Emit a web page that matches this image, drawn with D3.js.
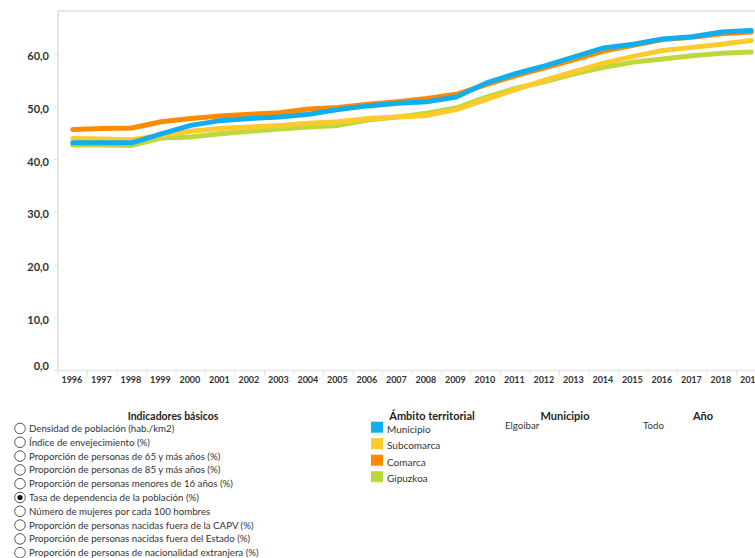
<!DOCTYPE html>
<html>
<head>
<meta charset="utf-8">
<script src="https://cdn.jsdelivr.net/npm/d3@7"></script>
<style>
  html, body { margin: 0; padding: 0; background: #fff; }
  svg { display: block; font-family: Lato, "Open Sans", sans-serif; }
</style>
</head>
<body>
<svg id="chart" width="755" height="558"></svg>
<script>
// Tasa de dependencia de la población (%), Elgoibar and its reference areas
const years = ["1996","1997","1998","1999","2000","2001","2002","2003","2004","2005","2006","2007",
               "2008","2009","2010","2011","2012","2013","2014","2015","2016","2017","2018","2019"];
const municipio  = [43.1,43.1,43.1,44.8,46.4,47.3,47.7,48.0,48.5,49.4,50.1,50.6,50.9,51.8,54.4,56.2,57.7,59.4,61.1,61.8,62.8,63.2,64.1,64.4];
const subcomarca = [43.9,43.8,43.7,44.5,45.3,45.8,46.1,46.4,46.8,47.1,47.7,48.0,48.3,49.4,51.3,53.2,55.0,56.6,58.2,59.5,60.6,61.2,61.8,62.5];
const comarca    = [45.6,45.8,45.9,47.1,47.7,48.2,48.5,48.8,49.5,49.8,50.4,50.9,51.5,52.3,54.1,55.8,57.3,58.9,60.5,61.6,62.7,63.1,63.8,64.1];
const gipuzkoa   = [42.7,42.7,42.6,44.0,44.2,44.8,45.3,45.7,46.1,46.4,47.4,48.0,48.7,49.7,51.7,53.4,54.7,56.2,57.4,58.4,59.0,59.6,60.1,60.3];
const yTicks = [0,10,20,30,40,50,60];

const ambitos = ["Municipio","Subcomarca","Comarca","Gipuzkoa"];
const ambitoColors = ["#10aeef","#ffca2c","#ff8a00","#bed73a"];
const indicadores = [
  "Densidad de población (hab./km2)",
  "Índice de envejecimiento (%)",
  "Proporción de personas de 65 y más años (%)",
  "Proporción de personas de 85 y más años (%)",
  "Proporción de personas menores de 16 años (%)",
  "Tasa de dependencia de la población (%)",
  "Número de mujeres por cada 100 hombres",
  "Proporción de personas nacidas fuera de la CAPV (%)",
  "Proporción de personas nacidas fuera del Estado (%)",
  "Proporción de personas de nacionalidad extranjera (%)"
];
const indicadorSeleccionado = 5;
const municipioSel = "Elgoibar";
const anioSel = "Todo";

const seriesValues = [municipio, subcomarca, comarca, gipuzkoa];

const svg = d3.select("#chart");
const plot = { left: 58, top: 11, right: 766, bottom: 370 };

const x = d3.scaleBand().domain(years).range([plot.left, plot.right]);
const y = d3.scaleLinear().domain([0, 68.1]).range([plot.bottom, plot.top]);

// plot frame (left and top edges)
svg.append("path")
  .attr("d", `M${plot.left},${plot.bottom}V${plot.top}H${plot.right}`)
  .attr("fill", "none").attr("stroke", "#e6e6e6").attr("stroke-width", 2);

// y axis
const yAxis = svg.append("g")
  .attr("transform", `translate(${plot.left},0)`)
  .call(d3.axisLeft(y).tickValues(yTicks).tickSize(4).tickPadding(5)
        .tickFormat(d => d3.format(".1f")(d).replace(".", ",")));
yAxis.select(".domain").remove();
yAxis.selectAll(".tick line").attr("stroke", "#dcdcdc");
yAxis.selectAll(".tick text")
  .attr("fill", "#333").attr("font-weight", "bold").attr("font-size", 11)
  .attr("font-family", "Lato, sans-serif")
  .attr("dy", d => d === 0 ? "-0.05em" : "0.55em");

// x axis
const xAxis = svg.append("g")
  .attr("transform", `translate(0,${plot.bottom})`)
  .call(d3.axisBottom(x).tickSize(0).tickPadding(7));
xAxis.select(".domain").attr("stroke", "#e6e6e6").attr("stroke-width", 1.5);
xAxis.selectAll(".tick text")
  .attr("fill", "#333").attr("font-weight", "bold").attr("font-size", 9)
  .attr("font-family", "Lato, sans-serif").attr("dx", "-0.1em");
// band separators
xAxis.selectAll(".sep").data(years).join("line")
  .attr("class", "sep")
  .attr("x1", d => x(d)).attr("x2", d => x(d))
  .attr("y1", 0).attr("y2", 5)
  .attr("stroke", "#e2e2e2");

// series lines
const line = d3.line()
  .x((d, i) => x(years[i]) + x.bandwidth() / 2)
  .y(d => y(d));
const drawOrder = [3, 1, 2, 0];
svg.append("g").selectAll("path")
  .data(drawOrder)
  .join("path")
  .attr("d", k => line(seriesValues[k]))
  .attr("fill", "none")
  .attr("stroke", k => ambitoColors[k])
  .attr("stroke-width", 5)
  .attr("stroke-linejoin", "round")
  .attr("stroke-linecap", "round");

// controls panel below the chart
const head = (txt, cx, size) => svg.append("text")
  .attr("x", cx).attr("y", 419.5).attr("text-anchor", "middle")
  .attr("font-weight", "bold").attr("font-size", size).attr("fill", "#222").text(txt);

head("Indicadores básicos", 173, 10.5);
const radios = svg.append("g").selectAll("g").data(indicadores).join("g")
  .attr("transform", (d, i) => `translate(20,${428.5 + i * 13.8})`);
radios.append("circle").attr("r", 5.3).attr("fill", "#fff").attr("stroke", "#444").attr("stroke-width", 0.9);
radios.filter((d, i) => i === indicadorSeleccionado)
  .append("circle").attr("r", 2.6).attr("fill", "#111");
radios.append("text").attr("x", 9).attr("dy", "0.35em")
  .attr("font-size", 9.7).attr("fill", "#333").text(d => d);

head("Ámbito territorial", 432, 11);
const leg = svg.append("g").selectAll("g").data(ambitos).join("g")
  .attr("transform", (d, i) => `translate(371,${421.7 + i * 16.5})`);
leg.append("rect").attr("width", 12).attr("height", 11).attr("fill", (d, i) => ambitoColors[i]);
leg.append("text").attr("x", 16).attr("y", 7.5).attr("dy", "0.35em")
  .attr("font-size", 10).attr("fill", "#333").text(d => d);

head("Municipio", 565, 11);
svg.append("text").attr("x", 505).attr("y", 426).attr("dy", "0.35em")
  .attr("font-size", 9.7).attr("fill", "#333").text(municipioSel);

head("Año", 703, 11);
svg.append("text").attr("x", 643).attr("y", 426).attr("dy", "0.35em")
  .attr("font-size", 9.7).attr("fill", "#333").text(anioSel);
</script>
</body>
</html>
